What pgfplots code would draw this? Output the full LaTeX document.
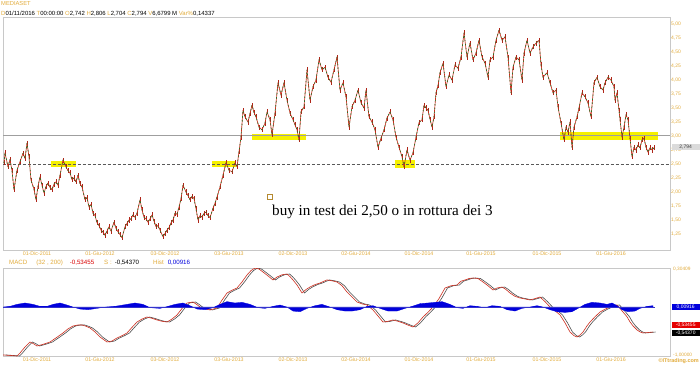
\documentclass[border=0pt]{standalone}
\usepackage{fontspec}
\setmainfont{Liberation Sans}
\newfontfamily\timesfont{Liberation Serif}
\usepackage{pgfplots}
\pgfplotsset{compat=1.18}
\usepackage{pgfplotstable}
\definecolor{gold}{RGB}{226,172,60}
\definecolor{frameg}{RGB}{200,200,200}
\definecolor{candr}{RGB}{205,45,30}
\definecolor{candg}{RGB}{40,115,40}
\definecolor{hl}{RGB}{245,240,0}
\definecolor{macdblue}{RGB}{0,0,220}

\pgfplotstableread{
x p
4 2.52
5 2.70
8 2.45
10 2.58
12 2.38
14 2.04
17 2.39
20 2.54
23 2.69
25 2.60
27 2.87
29 2.63
31 2.21
34 2.05
36 1.86
38 2.10
40 2.27
42 2.12
44 1.98
46 2.10
48 2.16
50 2.08
52 2.04
54 2.14
56 2.18
58 2.12
60 2.30
63 2.57
66 2.45
68 2.38
70 2.34
72 2.22
74 2.25
76 2.18
78 2.30
80 2.15
82 2.09
85 1.86
87 1.90
89 1.73
91 1.78
93 1.62
95 1.58
97 1.45
99 1.40
101 1.32
103 1.28
105 1.23
107 1.30
109 1.38
111 1.30
114 1.46
116 1.35
118 1.29
120 1.24
122 1.18
125 1.38
127 1.44
129 1.50
131 1.52
133 1.59
135 1.55
137 1.62
140 1.86
142 1.68
144 1.55
146 1.52
148 1.46
150 1.52
152 1.59
154 1.48
156 1.38
158 1.40
160 1.32
163 1.20
165 1.26
167 1.32
169 1.36
171 1.45
173 1.50
175 1.62
177 1.60
179 1.73
181 1.88
183 2.12
186 2.00
188 1.94
190 1.86
192 1.92
194 1.89
196 1.70
198 1.50
200 1.58
202 1.55
204 1.62
206 1.64
208 1.58
210 1.54
213 1.71
215 1.80
217 1.91
220 2.09
223 2.30
226 2.52
229 2.39
232 2.36
235 2.52
237 2.45
239 2.72
241 2.98
243 3.46
245 3.34
248 3.25
250 3.40
252 3.55
254 3.42
256 3.34
259 3.16
262 3.11
265 3.23
267 3.43
270 3.29
272 3.02
275 3.41
278 3.95
281 3.73
284 3.95
287 3.64
290 3.41
293 3.29
295 3.20
297 3.11
299 2.93
301 3.43
304 3.52
307 4.18
310 3.64
313 3.88
316 4.00
319 4.36
322 4.18
325 4.23
328 4.05
331 3.96
334 4.18
337 4.41
340 3.82
343 3.95
346 3.70
349 3.16
352 3.52
355 3.64
358 3.82
361 3.59
364 3.50
366 3.82
369 3.34
372 3.25
375 3.11
378 2.80
381 2.96
384 3.11
387 3.32
390 3.43
393 3.29
396 2.98
399 2.80
402 2.63
404 2.45
407 2.75
410 2.57
413 2.70
416 2.98
419 3.24
422 3.29
424 3.55
426 3.50
428 3.46
430 3.30
432 3.16
434 3.34
436 3.77
438 3.90
440 4.13
443 4.30
446 3.88
449 4.09
452 4.00
455 4.27
458 4.21
461 4.41
464 4.84
467 4.41
470 4.66
473 4.36
476 4.48
479 4.71
482 4.41
485 4.30
488 4.05
490 4.36
493 4.41
496 4.71
499 4.89
502 4.71
505 4.77
508 4.41
511 3.77
513 4.23
516 4.41
519 4.36
522 4.00
524 4.48
527 4.71
530 4.48
533 4.59
536 4.66
539 4.71
541 4.27
543 4.05
547 4.13
550 3.95
553 3.77
556 3.82
558 3.52
561 3.23
564 2.93
566 3.16
568 3.07
570 3.25
572 2.80
574 3.16
577 3.34
579 3.50
582 3.77
585 3.70
588 3.59
591 3.34
594 3.95
597 4.05
600 3.88
603 3.82
605 3.95
608 4.05
611 4.00
614 3.88
615 3.64
617 3.77
619 3.46
620 3.29
622 2.98
624 3.16
626 3.38
628 3.29
630 2.96
632 2.63
634 2.80
636 2.75
638 2.84
640 2.79
642 2.93
644 2.96
646 2.80
648 2.71
650 2.79
652 2.75
654 2.79
}\pricedata

\pgfplotstableread{
x m
3 -0.844
10 -0.850
17 -0.858
20 -0.818
25 -0.739
30 -0.673
34 -0.700
37 -0.726
44 -0.700
50 -0.673
57 -0.610
63 -0.554
68 -0.500
73 -0.462
78 -0.448
82 -0.448
86 -0.465
90 -0.488
95 -0.540
100 -0.607
107 -0.673
112 -0.660
117 -0.620
122 -0.590
127 -0.554
132 -0.480
137 -0.409
142 -0.370
147 -0.343
152 -0.360
157 -0.382
162 -0.400
167 -0.409
172 -0.370
177 -0.316
182 -0.230
187 -0.158
193 -0.145
197 -0.180
200 -0.211
205 -0.235
210 -0.250
217 -0.224
222 -0.120
227 -0.026
232 0.010
237 0.040
242 0.120
247 0.212
251 0.270
255 0.304
259 0.290
263 0.251
268 0.200
273 0.146
277 0.185
282 0.215
287 0.225
290 0.190
293 0.146
297 0.080
302 -0.026
306 0.020
310 0.053
315 0.085
320 0.106
324 0.130
327 0.146
332 0.135
337 0.119
342 0.070
347 -0.013
350 -0.052
357 -0.145
362 -0.170
367 -0.184
373 -0.250
378 -0.330
383 -0.409
388 -0.400
393 -0.382
398 -0.400
403 -0.422
408 -0.450
413 -0.475
418 -0.420
423 -0.343
428 -0.280
433 -0.211
439 -0.100
445 0.040
451 0.070
457 0.080
461 0.130
465 0.146
469 0.165
473 0.172
478 0.165
483 0.119
488 0.070
493 0.014
497 0.040
502 0.053
506 0.020
510 -0.026
515 -0.070
520 -0.092
525 -0.105
530 -0.118
535 -0.100
540 -0.079
545 -0.140
550 -0.211
555 -0.260
560 -0.316
565 -0.420
570 -0.541
574 -0.590
577 -0.607
580 -0.580
583 -0.541
587 -0.460
590 -0.409
595 -0.340
600 -0.277
605 -0.240
610 -0.211
614 -0.190
617 -0.184
620 -0.230
623 -0.277
627 -0.340
630 -0.409
633 -0.460
637 -0.514
640 -0.540
643 -0.554
648 -0.548
653 -0.541
}\macddata

\pgfplotstableread{
x h
3 0
10 0.005
17 0.02
25 0.03
33 0.02
40 0.005
47 0.005
53 0.02
60 0.03
67 0.015
73 0
80 -0.015
88 -0.02
97 -0.01
105 0
115 0.005
127 0.02
135 0.03
143 0.02
150 -0.005
160 -0.01
168 0.005
175 0.02
183 0.03
190 0.01
197 -0.015
205 -0.02
213 -0.005
220 0.02
227 0.04
235 0.03
242 0.035
250 0.02
258 -0.005
265 -0.01
273 0.005
280 0.015
287 0
293 -0.03
300 -0.035
307 -0.01
315 0.01
322 0.02
330 0
337 -0.02
345 -0.03
352 -0.03
360 -0.02
367 0.005
373 0.01
380 -0.01
388 -0.03
397 -0.03
405 -0.01
412 0.005
420 0.025
428 0.03
435 0.035
442 0.04
450 0.02
457 -0.005
463 -0.01
470 0.01
477 0.005
485 -0.005
492 0.01
500 0.005
507 -0.02
515 -0.03
522 -0.01
530 0
537 0.01
543 0
550 -0.02
557 -0.035
565 -0.04
572 -0.035
578 -0.01
585 0.02
592 0.035
600 0.03
607 0.02
612 0.03
617 0.01
622 -0.02
628 -0.035
635 -0.03
640 -0.01
647 0.005
653 0.01
}\histdata

\pgfplotsset{
  chartbase/.style={
    anchor=south west, scale only axis, width=667bp,
    xmin=3, xmax=670,
    axis line style={draw=frameg, line width=0.9pt},
    major tick length=0pt, tick style={draw=none},
    xtick={37,100,165,229,293,356,419,481,547,611},
    xticklabels={01-Dic-2011,01-Giu-2012,03-Dic-2012,03-Giu-2013,02-Dic-2013,02-Giu-2014,01-Dic-2014,01-Giu-2015,01-Dic-2015,01-Giu-2016},
    x tick label style={font=\fontsize{5.3}{5.5}\selectfont, text=gold, inner sep=1pt},
  }
}

\begin{document}
\begin{tikzpicture}[x=1bp,y=1bp]
\path[use as bounding box] (0,0) rectangle (700,365);
\fill[white] (0,0) rectangle (700,365);

% ---------- price panel ----------
\begin{axis}[chartbase, at={(3bp,115bp)}, height=233bp,
  ymin=0.964, ymax=5.125,
  ytick={1.25,1.5,1.75,2,2.25,2.5,2.75,3,3.25,3.5,3.75,4,4.25,4.5,4.75,5},
  yticklabel pos=right,
  y tick label style={font=\fontsize{5}{5.5}\selectfont, text=gold, inner sep=1pt,
    /pgf/number format/.cd, fixed, fixed zerofill, precision=2, use comma, assume math mode=true},
]
% yellow highlights
\addplot[fill=hl, draw=none] coordinates {(51,2.446) (76,2.446) (76,2.554) (51,2.554)} -- cycle;
\addplot[fill=hl, draw=none] coordinates {(212,2.446) (236,2.446) (236,2.554) (212,2.554)} -- cycle;
\addplot[fill=hl, draw=none] coordinates {(395,2.43) (415,2.43) (415,2.57) (395,2.57)} -- cycle;
\addplot[fill=hl, draw=none] coordinates {(252,2.929) (306,2.929) (306,3.036) (252,3.036)} -- cycle;
\addplot[fill=hl, draw=none] coordinates {(560,2.93) (658,2.93) (658,3.07) (560,3.07)} -- cycle;
% reference lines
\addplot[draw=gray!75, line width=1pt] coordinates {(3,3) (670,3)};
\addplot[draw=black!65, line width=0.6pt, dash pattern=on 3pt off 2pt] coordinates {(3,2.5) (670,2.5)};
% price (daily range ticks + close path)
\addplot[draw=none, mark=none, error bars/.cd, y dir=both, y fixed=0.045,
  error bar style={draw=candr!85!black, line width=0.7pt}, error mark=none] table[x=x,y=p] {\pricedata};
\addplot[draw=candr, line width=0.65pt, line join=round] table[x=x,y=p] {\pricedata};
\addplot[draw=candg, line width=0.7pt, dash pattern=on 1.5pt off 2.5pt, line join=round] table[x=x,y=p] {\pricedata};
% small square marker
\addplot[only marks, mark=square, mark size=2.6pt, mark options={draw=gold!80!black, line width=0.5pt}] coordinates {(269.5,1.911)};
\end{axis}

% ---------- MACD panel ----------
\begin{axis}[chartbase, at={(3bp,9bp)}, height=88bp,
  ymin=-0.858, ymax=0.304, ytick=\empty,
]
\addplot[draw=black!70, line width=0.6pt] table[x expr=\thisrow{x}+2.5, y=m] {\macddata};
\addplot[draw=candr, line width=0.6pt] table[x=x,y=m] {\macddata};
\end{axis}
\begin{axis}[anchor=south west, at={(3bp,9bp)}, scale only axis, width=667bp, height=88bp,
  xmin=3, xmax=670, ymin=-0.364, ymax=0.29, axis lines=none, ticks=none]
\addplot[fill=macdblue, draw=macdblue, line width=0.3pt] table[x=x,y=h] {\histdata} \closedcycle;
\addplot[draw=blue!60!gray, line width=0.5pt] coordinates {(3,0) (655,0)};
\end{axis}

% ---------- texts ----------
\node[anchor=west, font=\fontsize{5.8}{6}\selectfont, text=gold, inner sep=0] at (1,361) {MEDIASET};
\node[anchor=west, font=\fontsize{6}{7}\selectfont, inner sep=0] at (1,351.5)
  {\textcolor{gold}{D}01/11/2016 \textcolor{gold}{T}00:00:00 \textcolor{gold}{O}2,742 \textcolor{gold}{H}2,806 \textcolor{gold}{L}2,704 \textcolor{gold}{C}2,794 \textcolor{gold}{V}6,6799 M \textcolor{gold}{Var\%}0,14337};
\node[anchor=west, font=\timesfont\fontsize{15.2}{17}\selectfont, inner sep=0] at (272,153) {buy in test dei 2,50 o in rottura dei 3};

\node[anchor=west, fill=gray!28, text=black!75, font=\fontsize{5}{5.5}\selectfont, inner sep=1.2pt, minimum width=28bp] at (671.5,218) {2,794};

\node[anchor=west, font=\fontsize{6.2}{7}\selectfont, inner sep=0] at (9,102.5)
  {\textcolor{gold}{MACD}\hspace{9bp}\textcolor{gold}{(32 , 200)}\hspace{7bp}\textcolor{red!85!black}{-0,53455}\hspace{10bp}\textcolor{gold}{S :}\hspace{3bp}-0,54370\hspace{14bp}\textcolor{gold}{Hist}\hspace{4bp}\textcolor{macdblue}{0,00916}};

\node[anchor=west, font=\fontsize{4.8}{5}\selectfont, text=gold, inner sep=0] at (673,96) {0,30409};
\node[anchor=west, fill=macdblue, text=white, font=\fontsize{5}{5.5}\selectfont, inner sep=1.2pt, minimum width=28bp] at (671.5,58) {0,00916};
\node[anchor=west, fill=red!90!black, text=white, font=\fontsize{5}{5.5}\selectfont, inner sep=1.2pt, minimum width=28bp] at (671.5,40) {-0,53455};
\node[anchor=west, fill=black, text=white, font=\fontsize{5}{5.5}\selectfont, inner sep=1.2pt, minimum width=28bp] at (671.5,32) {-0,54370};
\node[anchor=west, font=\fontsize{4.8}{5}\selectfont, text=gold, inner sep=0] at (673,10) {-1,00000};
\node[anchor=east, font=\bfseries\fontsize{5.5}{6}\selectfont, text=gold, inner sep=0] at (699,4) {\textcopyright ITtrading.com};
\end{tikzpicture}
\end{document}
